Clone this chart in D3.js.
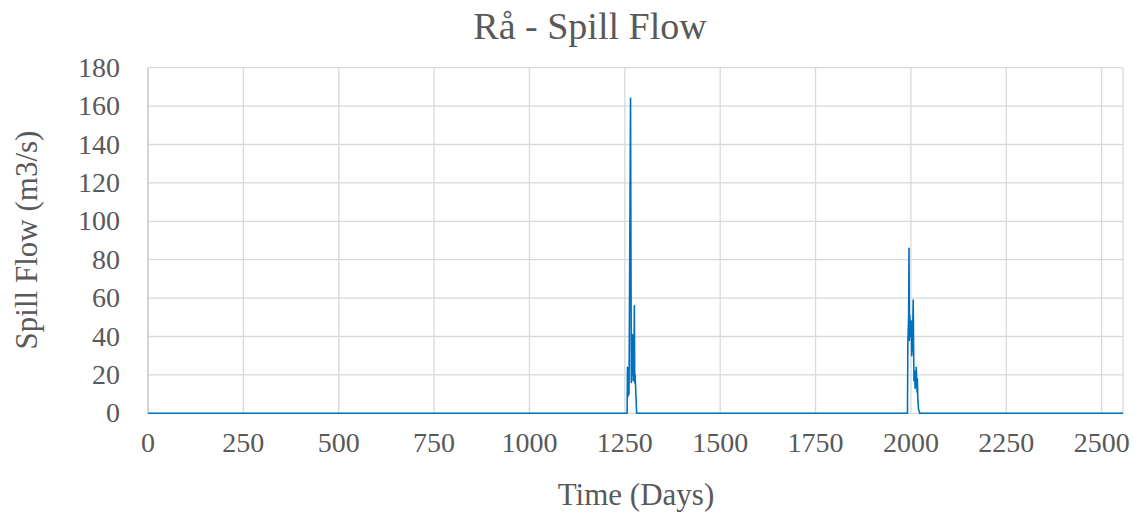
<!DOCTYPE html>
<html><head><meta charset="utf-8">
<script src="https://cdn.jsdelivr.net/npm/d3@7"></script>
<style>body{margin:0;background:#fff}svg{display:block}</style>
</head><body><svg id="c" width="1144" height="515"></svg>
<script>
// Spill flow (m3/s) by day; days not listed are zero
const days =   [0, 1256, 1257, 1259, 1260, 1261, 1265, 1267, 1268, 1269, 1270, 1272, 1274, 1275, 1276, 1277, 1278, 1281,
                1991, 1992, 1994, 1995, 1996, 1997, 1998, 1999, 2001, 2002, 2004, 2006, 2007, 2008, 2009, 2010, 2011, 2012, 2013, 2014, 2015, 2016, 2017, 2018, 2020, 2022, 2023, 2556];
const flows =  [0, 0, 24, 9, 22, 10, 164, 16, 38, 20, 41, 17, 30, 56, 16, 20, 15, 0,
                0, 37, 50, 86, 38, 51, 45, 40, 48, 30, 36, 59, 35, 17, 22, 20, 13, 22, 14, 24, 19, 11, 18, 8, 2, 1, 0, 0];
const xTicks = [0, 250, 500, 750, 1000, 1250, 1500, 1750, 2000, 2250, 2500];
const yTicks = [0, 20, 40, 60, 80, 100, 120, 140, 160, 180];
const title = "Rå - Spill Flow";
const xTitle = "Time (Days)";
const yTitle = "Spill Flow (m3/s)";

const svg = d3.select("#c");
const L = 148, R = 1123, T = 67.7, B = 413.3;
const x = d3.scaleLinear().domain([0, 2556]).range([L, R]);
const y = d3.scaleLinear().domain([0, 180]).range([B, T]);
const font = "'Liberation Serif','Times New Roman',serif";
const grey = "#595959";

// gridlines
svg.append("g").selectAll("line").data(yTicks).join("line")
  .attr("x1", L).attr("x2", R).attr("y1", d => y(d)).attr("y2", d => y(d))
  .attr("stroke", "#d9d9d9").attr("stroke-width", 1.3);
svg.append("g").selectAll("line").data(xTicks.slice(1)).join("line")
  .attr("x1", d => x(d)).attr("x2", d => x(d)).attr("y1", T).attr("y2", B)
  .attr("stroke", "#d9d9d9").attr("stroke-width", 1.3);
// right border and left axis
svg.append("line").attr("x1", R).attr("x2", R).attr("y1", T).attr("y2", B)
  .attr("stroke", "#d9d9d9").attr("stroke-width", 1.3);
svg.append("line").attr("x1", L).attr("x2", L).attr("y1", T).attr("y2", B)
  .attr("stroke", "#bfbfbf").attr("stroke-width", 1.3);

// tick labels
svg.append("g").selectAll("text").data(yTicks).join("text")
  .attr("x", 120).attr("y", d => y(d) + 9)
  .attr("text-anchor", "end").attr("font-family", font).attr("font-size", 28)
  .attr("fill", grey).text(d => d);
svg.append("g").selectAll("text").data(xTicks).join("text")
  .attr("x", d => x(d)).attr("y", 452)
  .attr("text-anchor", "middle").attr("font-family", font).attr("font-size", 28)
  .attr("fill", grey).text(d => d);

// line
const pts = days.map((d, i) => [d, flows[i]]);
svg.append("path").datum(pts)
  .attr("d", d3.line().x(d => x(d[0])).y(d => y(d[1])))
  .attr("fill", "none").attr("stroke", "#0070c0").attr("stroke-width", 1.6)
  .attr("stroke-linejoin", "round");

// titles
svg.append("text").attr("x", 590).attr("y", 39)
  .attr("text-anchor", "middle").attr("font-family", font).attr("font-size", 38)
  .attr("fill", grey).text(title);
svg.append("text").attr("x", 636).attr("y", 505)
  .attr("text-anchor", "middle").attr("font-family", font).attr("font-size", 31)
  .attr("fill", grey).text(xTitle);
svg.append("text").attr("transform", "translate(37,240) rotate(-90)")
  .attr("text-anchor", "middle").attr("font-family", font).attr("font-size", 31)
  .attr("fill", grey).text(yTitle);
</script></body></html>
